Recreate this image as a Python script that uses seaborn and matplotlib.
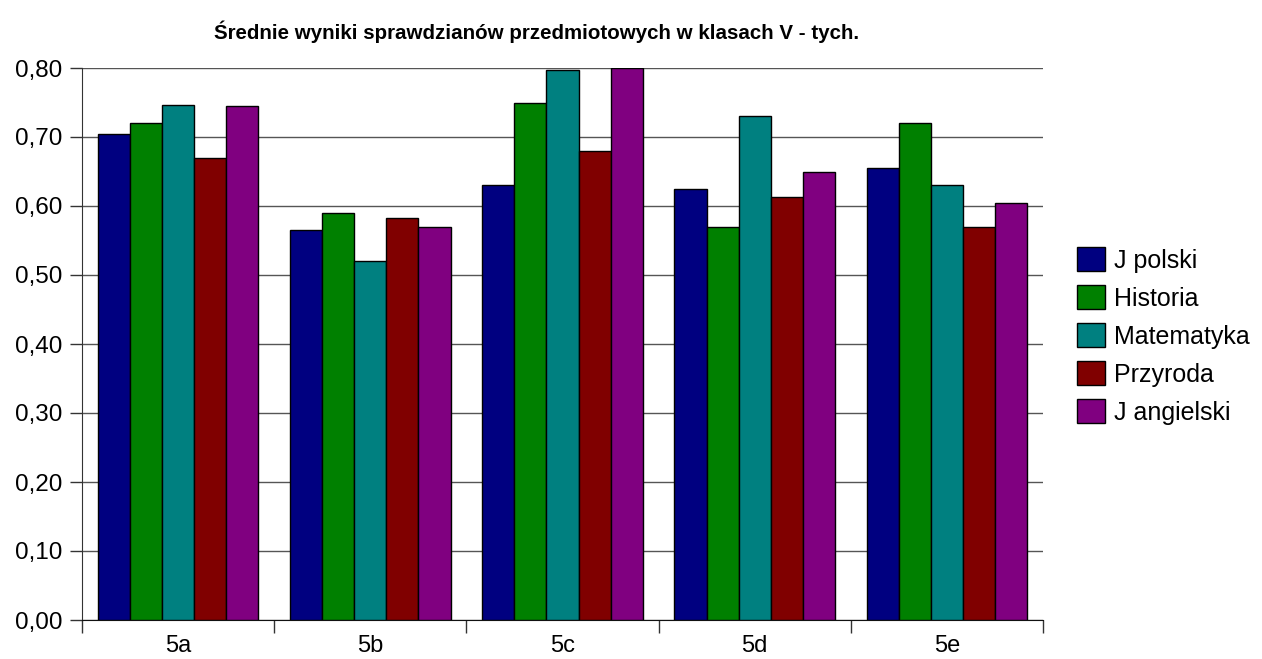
import matplotlib
matplotlib.use("Agg")
import matplotlib.pyplot as plt
import seaborn as sns
import pandas as pd
import numpy as np

classes = ["5a", "5b", "5c", "5d", "5e"]
subjects = ["J polski", "Historia", "Matematyka", "Przyroda", "J angielski"]
j_polski = [0.705, 0.565, 0.630, 0.625, 0.655]
historia = [0.720, 0.590, 0.750, 0.570, 0.720]
matematyka = [0.746, 0.520, 0.797, 0.730, 0.630]
przyroda = [0.670, 0.583, 0.680, 0.613, 0.570]
j_angielski = [0.745, 0.570, 0.800, 0.650, 0.605]
colors = ["#000080", "#008000", "#008080", "#800000", "#800080"]

series = [j_polski, historia, matematyka, przyroda, j_angielski]
rows = []
for s, vals in zip(subjects, series):
    for c, v in zip(classes, vals):
        rows.append({"klasa": c, "przedmiot": s, "wynik": v})
df = pd.DataFrame(rows)

sns.set_style("white")
plt.rcParams["font.family"] = ["Liberation Sans", "DejaVu Sans"]
plt.rcParams["text.color"] = "black"
plt.rcParams["xtick.color"] = "black"
plt.rcParams["ytick.color"] = "black"

fig = plt.figure(figsize=(12.62, 6.59), dpi=100)
ax = fig.add_axes([82/1262, 1-620/659, (1043-82)/1262, (620-68)/659])

sns.barplot(data=df, x="klasa", y="wynik", hue="przedmiot", order=classes,
            hue_order=subjects, palette=colors, saturation=1, width=0.835, dodge=True,
            edgecolor="black", linewidth=1.0, ax=ax, errorbar=None, zorder=3)

ax.set_ylim(0, 0.8)
ax.set_xlim(-0.5, 4.5)
yt = np.arange(0, 0.81, 0.1)
ax.set_yticks(yt)
ax.set_yticklabels([f"{v:.2f}".replace(".", ",") for v in yt], fontsize=17.5)
ax.yaxis.grid(True, color="#555555", linewidth=1.0, zorder=0)
ax.set_axisbelow(True)
ax.tick_params(axis="y", length=9, width=1, color="#333333", left=True, direction="out", pad=5)
ax.set_xticks(range(len(classes)))
ax.set_xticklabels(classes, fontsize=17)
ax.set_xticks(np.arange(-0.5, 5, 1), minor=True)
ax.tick_params(axis="x", which="major", length=0, pad=11)
ax.tick_params(axis="x", which="minor", length=9, width=1, color="#333333", bottom=True, direction="out")
ax.set_xlabel("")
ax.set_ylabel("")
for sp in ["top", "right"]:
    ax.spines[sp].set_visible(False)
ax.spines["left"].set_color("#333333")
ax.spines["bottom"].set_color("#111111")

handles, labels = ax.get_legend_handles_labels()
ax.get_legend().remove()
fig.legend(handles, labels, loc="center left", bbox_to_anchor=(1077/1262, 1-336/659),
           frameon=False, fontsize=18, handlelength=1.1, handleheight=1.1,
           handletextpad=0.4, labelspacing=0.5, borderaxespad=0, borderpad=0)

fig.text(537/1262, 1-32/659, "Średnie wyniki sprawdzianów przedmiotowych w klasach V - tych.",
         ha="center", va="center", fontsize=14.8, fontweight="bold")

fig.savefig("out.png", dpi=100)
